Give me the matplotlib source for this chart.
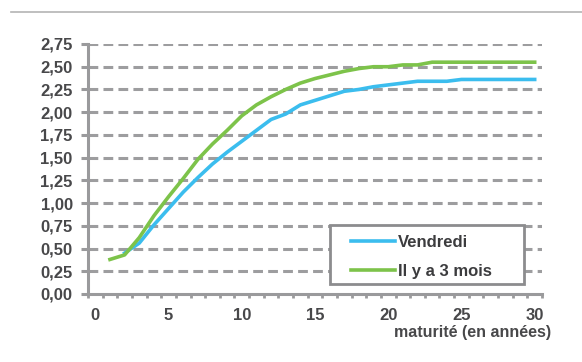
import numpy as np
import matplotlib
matplotlib.use("Agg")
import matplotlib.pyplot as plt
from matplotlib.lines import Line2D
from matplotlib.patches import Rectangle

# courbe des taux : maturité (années) -> taux (%)
mat_vendredi = list(range(2, 31))
taux_vendredi = [0.45, 0.56, 0.76, 0.94, 1.12, 1.28, 1.43, 1.56, 1.68, 1.80,
                 1.92, 1.98, 2.08, 2.13, 2.18, 2.23, 2.25, 2.28, 2.30, 2.32,
                 2.34, 2.34, 2.34, 2.36, 2.36, 2.36, 2.36, 2.36, 2.36]

mat_3mois = list(range(1, 31))
taux_3mois = [0.38, 0.43, 0.62, 0.86, 1.07, 1.27, 1.48, 1.65, 1.80, 1.96,
              2.08, 2.17, 2.25, 2.32, 2.37, 2.41, 2.45, 2.48, 2.50, 2.50,
              2.52, 2.52, 2.55, 2.55, 2.55, 2.55, 2.55, 2.55, 2.55, 2.55]

yticks = [0, 0.25, 0.5, 0.75, 1.0, 1.25, 1.5, 1.75, 2.0, 2.25, 2.5, 2.75]
xticks = [0, 5, 10, 15, 20, 25, 30]

blue = "#3bbdee"
green = "#7dc34a"
grey = "#9d9d9f"
txt = "#48484a"

plt.rcParams['font.family'] = ['Liberation Sans', 'DejaVu Sans']

fig = plt.figure(figsize=(5.82, 3.62), dpi=100)
W, H = 582, 362
ax = fig.add_axes([88 / W, (H - 294) / H, 454 / W, 250 / H])

# ligne grise en haut
fig.add_artist(Line2D([11 / W, 1.0], [(H - 12) / H] * 2, color="#b4b4b4", lw=1.2))

for y in yticks[1:]:
    ax.axhline(y, color=grey, lw=2.2, ls=(0, (3.2, 1.7)), zorder=1)

ax.plot(mat_vendredi, taux_vendredi, color=blue, lw=2.6, label="Vendredi",
        solid_joinstyle="round", zorder=3)
ax.plot(mat_3mois, taux_3mois, color=green, lw=2.6, label="Il y a 3 mois",
        solid_joinstyle="round", zorder=3)

ax.set_xlim(-0.5, 30.5)
ax.set_ylim(0, 2.75)
ax.set_yticks(yticks)
ax.set_yticklabels([f"{v:.2f}".replace(".", ",") for v in yticks])
ax.set_xticks(xticks)
ax.set_xticks(np.arange(-0.5, 31, 1), minor=True)

for s in ["top", "right"]:
    ax.spines[s].set_visible(False)
for s in ["left", "bottom"]:
    ax.spines[s].set_color("#9a9a9c")
    ax.spines[s].set_linewidth(2.2)

ax.tick_params(axis="y", length=5, width=2.2, color="#9a9a9c", pad=6,
               labelsize=12, labelcolor=txt)
ax.tick_params(axis="x", which="major", length=0, pad=10,
               labelsize=12, labelcolor=txt)
ax.tick_params(axis="x", which="minor", length=3, width=2, color="#9a9a9c")
for lab in ax.get_xticklabels() + ax.get_yticklabels():
    lab.set_fontweight("bold")

ax.text(1.02, -0.125, "maturité (en années)", transform=ax.transAxes,
        ha="right", va="top", fontsize=11.5, fontweight="bold", color=txt)

# cadre de la légende
ax.add_patch(Rectangle(((330 - 88) / 454, (294 - 284) / 250), 194 / 454, 59 / 250,
                       transform=ax.transAxes, facecolor="white",
                       edgecolor="#8c8c8e", lw=2, zorder=4))
leg = ax.legend(loc="upper left", bbox_to_anchor=((356 - 88) / 454 - 0.01, (294 - 235) / 250),
                frameon=False, handlelength=2.6, handletextpad=0.2,
                labelspacing=0.85, borderpad=0, borderaxespad=0,
                prop={"weight": "bold", "size": 12})
leg.set_zorder(5)
for t in leg.get_texts():
    t.set_color("#3c3c3e")

fig.savefig("out.png", dpi=100)
